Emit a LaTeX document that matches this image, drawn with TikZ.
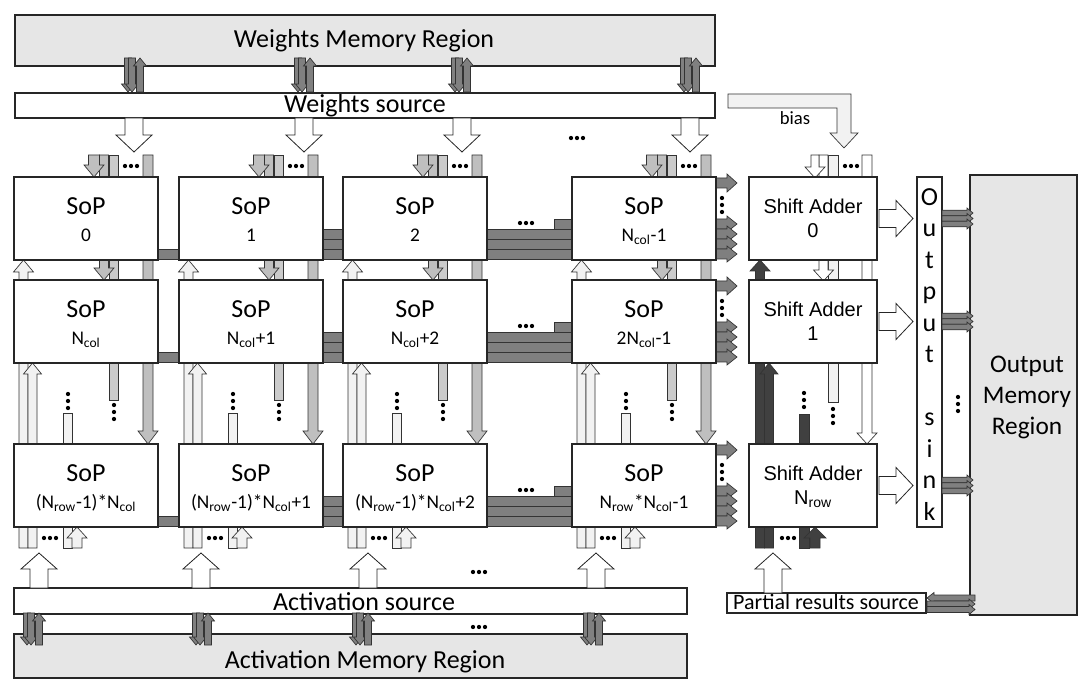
\documentclass[tikz,border=0pt]{standalone}
\usepackage{fontspec}
\setmainfont{Carlito}
\newfontfamily\arialf{Liberation Sans}
\definecolor{memfill}{HTML}{E6E6E6}
\definecolor{darkarr}{HTML}{808080}
\definecolor{psumc}{HTML}{7F7F7F}
\definecolor{wlane}{HTML}{BFBFBF}
\definecolor{wlanetwo}{HTML}{CBCBCB}
\definecolor{alane}{HTML}{F2F2F2}
\definecolor{slane}{HTML}{404040}
\newcommand{\vArr}[7]{%
  \pgfmathsetmacro{\mhb}{(#3)>(#2) ? (#3)-(#6) : (#3)+(#6)}%
  \draw[#7] ({#1-#4},{#2}) -- ({#1-#4},{\mhb}) -- ({#1-#5},{\mhb}) -- ({#1},{#3}) -- ({#1+#5},{\mhb}) -- ({#1+#4},{\mhb}) -- ({#1+#4},{#2}) -- cycle;}
\newcommand{\hArr}[7]{%
  \pgfmathsetmacro{\mhb}{(#3)>(#2) ? (#3)-(#6) : (#3)+(#6)}%
  \draw[#7] ({#2},{#1-#4}) -- ({\mhb},{#1-#4}) -- ({\mhb},{#1-#5}) -- ({#3},{#1}) -- ({\mhb},{#1+#5}) -- ({\mhb},{#1+#4}) -- ({#2},{#1+#4}) -- cycle;}
\newcommand{\hdts}[2]{\fill ({#1-6},{#2}) circle[radius=1.6pt] ({#1},{#2}) circle[radius=1.6pt] ({#1+6},{#2}) circle[radius=1.6pt];}
\newcommand{\vdts}[2]{\fill ({#1},{#2-7}) circle[radius=1.6pt] ({#1},{#2}) circle[radius=1.6pt] ({#1},{#2+7}) circle[radius=1.6pt];}
\newcommand{\rectnode}[6]{\node[#6, minimum width={(#4-#2)*0.75pt}, minimum height={(#5-#3)*0.75pt}] (#1) at ({(#2+#4)/2},{(#3+#5)/2}) {};}
\newcommand{\memgrp}[3]{%
  \vArr{#1-6}{#2}{#3}{3.5}{6.5}{8}{darka}
  \vArr{#1-2}{#2}{#3}{3.5}{6.5}{8}{darka}
  \vArr{#1+6}{#3}{#2}{3.5}{6.5}{8}{darka}}
\tikzset{
  thinout/.style={draw=black!80, line width=0.5pt},
  darka/.style={thinout, fill=darkarr},
  wl/.style={thinout, fill=wlane},
  wltwo/.style={thinout, fill=wlanetwo},
  al/.style={thinout, fill=alane},
  sl/.style={thinout, fill=slane},
  bl/.style={thinout, fill=white},
  bltwo/.style={thinout, fill=alane},
  ps/.style={thinout, fill=psumc},
  bigarr/.style={draw=black!85, line width=0.6pt, fill=white},
  blk/.style={draw=black!85, line width=0.9pt, fill=white, inner sep=0pt},
  mem/.style={draw=black!85, line width=0.9pt, fill=memfill, inner sep=0pt},
  bigtxt/.style={anchor=base, inner sep=0pt, font=\fontsize{19.5}{23}\selectfont},
  soptitle/.style={anchor=base, inner sep=0pt, font=\fontsize{19.5}{23}\selectfont},
  sopsub/.style={anchor=base, inner sep=0pt, font=\fontsize{14.5}{17}\selectfont},
  satxt/.style={anchor=base, inner sep=0pt, font=\arialf\fontsize{15}{18}\selectfont},
  sinktxt/.style={anchor=base, inner sep=0pt, font=\fontsize{19.5}{23}\selectfont},
}
\begin{document}
\begin{tikzpicture}[x=0.75pt,y=-0.75pt]
\useasboundingbox (0,0) rectangle (1078,680);
\fill[white] (0,0) rectangle (1078,680);

% ---------- memories and sources
\rectnode{wmem}{15}{15}{715}{66}{mem}
\rectnode{wsrc}{15}{93}{715}{118}{blk}
\rectnode{amem}{14}{634}{687}{678}{mem}
\rectnode{asrc}{14}{588}{687}{614}{blk}
\rectnode{omem}{970}{175}{1077}{615}{mem}
\rectnode{osink}{917}{177}{942}{527}{blk}
\rectnode{psrc}{727}{593}{926}{613}{blk}

\node[bigtxt] (wmemt) at (364,48) {Weights Memory Region};
\node[bigtxt] (wsrct) at (365,113) {Weights source};
\node[bigtxt] (asrct) at (364,610) {Activation source};
\node[bigtxt] (amemt) at (365,668) {Activation Memory Region};
\node[anchor=base, inner sep=0pt, font=\fontsize{16.5}{19}\selectfont] (psrct) at (826,609) {Partial results source};
\node[anchor=base, inner sep=0pt, font=\fontsize{19}{22}\selectfont] (omt1) at (1027,373) {Output};
\node[anchor=base, inner sep=0pt, font=\fontsize{19}{22}\selectfont] (omt2) at (1027,404) {Memory};
\node[anchor=base, inner sep=0pt, font=\fontsize{19}{22}\selectfont] (omt3) at (1027,435) {Region};
\foreach \ch/\i in {O/0,u/1,t/2,p/3,u/4,t/5,s/7,i/8,n/9,k/10}
  \node[sinktxt] at (929.5,{205.5+31.5*\i}) {\ch};

% ---------- memory <-> source arrows
\foreach \xx in {134,304,461,690} {\memgrp{\xx}{58}{92}}
\foreach \xx in {33,202,362,593} {\memgrp{\xx}{613}{645}}

% ---------- big white arrows
\foreach \xx in {134,304,462,690} {\vArr{\xx}{118}{152}{9}{18}{17}{bigarr}}
\foreach \xx in {39,201,368,596} {\vArr{\xx}{588}{553}{9}{18}{16}{bigarr}}
\vArr{773}{593}{553}{9}{18}{16}{bigarr}
\hdts{577}{138}
\hdts{479}{572}
\hdts{479}{627}

% ---------- bias arrow
\draw[thinout, fill=alane] (728,94) -- (851,94) -- (851,133) -- (858,133) -- (844,148) -- (830,133) -- (837,133) -- (837,108) -- (728,108) -- cycle;
\node[anchor=base, inner sep=0pt, font=\fontsize{14}{17}\selectfont] (biast) at (795,125) {bias};

% ---------- SoP column lanes
\foreach \cL in {14,179,343,572} {
  \draw[wltwo] ({\cL+95},155) rectangle ({\cL+104},400);
  \vArr{\cL+134}{155}{444}{5}{10}{13}{wl}
  \vArr{\cL+90}{155}{280}{4.5}{10}{12}{wl}
  \vArr{\cL+80}{155}{177}{5.5}{10}{12}{wl}
  \hdts{\cL+117}{166}
  \vdts{\cL+100}{412}
  \draw[al] ({\cL+49},413) rectangle ({\cL+58},548);
  \vArr{\cL+63}{548}{527}{5}{10}{11}{al}
  \vArr{\cL+9.5}{548}{260}{4.5}{10}{12}{al}
  \vArr{\cL+18.5}{548}{363}{4.5}{9}{11}{al}
  \hdts{\cL+36}{538}
  \vdts{\cL+54}{401}
}

% ---------- shift adder lanes
\draw[bltwo] (828,155) rectangle (838,402);
\vArr{867}{155}{444}{5}{10}{11}{bl}
\vArr{823.5}{155}{281}{4.5}{10}{11}{bl}
\vArr{815}{155}{178}{4}{10}{11}{bl}
\hdts{851}{166}
\vdts{833}{416}
\draw[sl] (799,414) rectangle (809,548);
\vArr{815}{548}{527}{5}{11}{11}{sl}
\vArr{760}{548}{260}{4.5}{10}{11}{sl}
\vArr{769}{548}{363}{4.5}{9}{11}{sl}
\hdts{788}{538}
\vdts{804}{400}

% ---------- partial sums, outputs per row
\foreach \rT in {177,280,444} {
  \draw[ps] (158,{\rT+72}) rectangle (179,{\rT+82});
  \foreach \k in {52,62,72} {\draw[ps] (323,{\rT+\k}) rectangle (343,{\rT+\k+10});}
  \foreach \k in {52,62,72} {\draw[ps] (487,{\rT+\k}) rectangle (572,{\rT+\k+10});}
  \draw[ps] (554,{\rT+42}) rectangle (572,{\rT+52});
  \hdts{526}{\rT+46}
  \hArr{\rT+6}{716}{737}{5}{9}{10}{ps}
  \foreach \k in {47,57,67,77} {\hArr{\rT+\k}{716}{737}{5}{8}{10}{ps}}
  \vdts{722}{\rT+28}
  \hArr{\rT+41.5}{879}{913}{9}{18}{17}{bigarr}
  \foreach \k in {36,41.5,47} {\hArr{\rT+\k}{942}{973}{2.8}{5}{6}{darka}}
}
\vdts{958}{404}
% output memory <-> partial results source
\hArr{598}{975}{927}{3}{5.5}{7}{darka}
\hArr{604}{927}{975}{3}{5}{6}{darka}
\hArr{609.5}{927}{975}{3}{5}{6}{darka}

% ---------- SoP boxes
\foreach \cL [count=\ci from 0] in {14,179,343,572} {
  \foreach \rT [count=\ri from 0] in {177,280,444} {
    \rectnode{sop\ri\ci}{\cL}{\rT}{\cL+144}{\rT+83}{blk}
    \node[soptitle] at ({\cL+72},{\rT+38}) {SoP};
  }
}
\node[sopsub] at (86,242) {0};
\node[sopsub] at (251,242) {1};
\node[sopsub] at (415,242) {2};
\node[sopsub] at (644,242) {N\textsubscript{col}-1};
\node[sopsub] at (86,345) {N\textsubscript{col}};
\node[sopsub] at (251,345) {N\textsubscript{col}+1};
\node[sopsub] at (415,345) {N\textsubscript{col}+2};
\node[sopsub] at (644,345) {2N\textsubscript{col}-1};
\node[sopsub] at (86,509) {(N\textsubscript{row}-1)*N\textsubscript{col}};
\node[sopsub] at (251,509) {(N\textsubscript{row}-1)*N\textsubscript{col}+1};
\node[sopsub] at (415,509) {(N\textsubscript{row}-1)*N\textsubscript{col}+2};
\node[sopsub] at (644,509) {N\textsubscript{row}*N\textsubscript{col}-1};

% ---------- shift adders
\rectnode{sa0}{749}{177}{877}{260}{blk}
\rectnode{sa1}{749}{280}{877}{363}{blk}
\rectnode{sa2}{749}{444}{877}{527}{blk}
\node[satxt] at (813,214) {Shift Adder};
\node[satxt] at (813,238) {0};
\node[satxt] at (813,317) {Shift Adder};
\node[satxt] at (813,341) {1};
\node[satxt] at (813,481) {Shift Adder};
\node[satxt] at (813,505) {N\textsubscript{row}};
\end{tikzpicture}
\end{document}
